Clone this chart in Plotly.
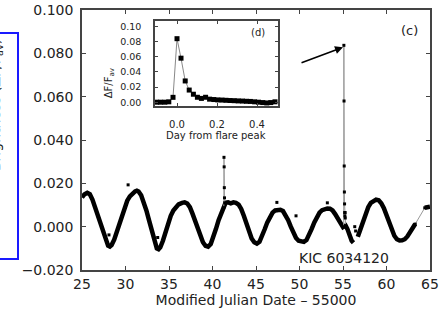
import plotly.graph_objects as go

# ---------------- data ----------------
# quiescent light curve (Modified Julian Date - 55000, brightness)
lc_t = [25.0, 25.3, 25.6, 25.9, 26.2, 26.5, 26.8, 27.1, 27.4, 27.7, 28.0, 28.2, 28.4, 28.7,
        29.0, 29.3, 29.6, 29.9, 30.2, 30.5, 30.8, 31.1, 31.3, 31.5, 31.8, 32.1, 32.4, 32.7,
        33.0, 33.3, 33.6, 33.8, 34.0, 34.3, 34.6, 34.9, 35.2, 35.5, 35.8, 36.1, 36.5, 36.8,
        37.1, 37.4, 37.7, 38.0, 38.3, 38.6, 38.9, 39.2, 39.5, 39.8, 40.1, 40.4, 40.7, 41.0,
        41.3, 41.5, 41.8, 42.1, 42.4, 42.7, 43.0, 43.3, 43.6, 43.9, 44.2, 44.5, 44.8, 45.1,
        45.4, 45.7, 46.0, 46.3, 46.6, 46.9, 47.2, 47.5, 47.8, 48.1, 48.4, 48.7, 49.0, 49.3,
        49.6, 49.9, 50.2, 50.5, 50.8, 51.1, 51.4, 51.7, 52.0, 52.3, 52.6, 52.9, 53.2, 53.5,
        53.8, 54.1, 54.4, 54.7, 55.0, 55.08, 55.3, 55.5, 55.8, 56.0, 56.2, None,
        56.7, 57.0, 57.3, 57.6, 57.9, 58.2, 58.5, 58.8, 59.1, 59.4, 59.7, 60.0, 60.3, 60.6,
        60.9, 61.2, 61.5, 61.8, 62.1, 62.4, 62.7, 63.0, 63.3, None,
        64.4, 64.6, 64.8, 65.0]
lc_v = [0.0135, 0.0150, 0.0156, 0.0150, 0.0125, 0.0090, 0.0050, 0.0010, -0.0030, -0.0065, -0.0088, -0.0092, -0.0085, -0.0060,
        -0.0025, 0.0015, 0.0055, 0.0090, 0.0120, 0.0140, 0.0155, 0.0163, 0.0166, 0.0162, 0.0145, 0.0115, 0.0075, 0.0030,
        -0.0015, -0.0065, -0.0100, -0.0104, -0.0095, -0.0065, -0.0025, 0.0015, 0.0050, 0.0075, 0.0092, 0.0103, 0.0110, 0.0112,
        0.0107, 0.0090, 0.0060, 0.0025, -0.0010, -0.0045, -0.0072, -0.0088, -0.0092, -0.0080, -0.0050, -0.0010, 0.0030, 0.0065,
        0.0088, 0.0110, 0.0112, 0.0108, 0.0112, 0.0110, 0.0102, 0.0082, 0.0050, 0.0012, -0.0025, -0.0055, -0.0072, -0.0078,
        -0.0070, -0.0045, -0.0012, 0.0020, 0.0048, 0.0065, 0.0075, 0.0078, 0.0078, 0.0072, 0.0055, 0.0030, 0.0000, -0.0030,
        -0.0052, -0.0065, -0.0070, -0.0070, -0.0062, -0.0040, -0.0010, 0.0020, 0.0045, 0.0065, 0.0076, 0.0082, 0.0084, 0.0083,
        0.0075, 0.0058, 0.0035, 0.0012, -0.0002, 0.0000, 0.0005, -0.0010, -0.0045, -0.0065, -0.0074, None,
        -0.0046, -0.0010, 0.0025, 0.0060, 0.0090, 0.0110, 0.0121, 0.0125, 0.0122, 0.0108, 0.0085, 0.0055, 0.0020, -0.0015,
        -0.0042, -0.0058, -0.0064, -0.0063, -0.0058, -0.0045, -0.0025, -0.0005, 0.0012, None,
        0.0087, 0.0088, 0.0090, 0.0092]

# flare events in the main light curve
flare1_t = [41.30, 41.32, 41.34, 41.36, 41.38, 41.40]
flare1_v = [0.0088, 0.0320, 0.0276, 0.0180, 0.0133, 0.0110]
flare2_t = [55.08, 55.10, 55.12, 55.14, 55.16, 55.18, 55.20, 55.22, 55.24, 55.26, 55.30]
flare2_v = [0.0000, 0.0837, 0.0580, 0.0280, 0.0160, 0.0105, 0.0065, 0.0050, 0.0065, 0.0040, 0.0005]

# data gap bridge at the end
gap_t = [63.3, 64.4]
gap_v = [0.0012, 0.0087]

# isolated outlier points
out_t = [28.1, 30.3, 33.7, 47.4, 49.6, 53.2, 56.35, 56.45]
out_v = [-0.0038, 0.0193, -0.0050, 0.0112, 0.0050, 0.0110, 0.0000, -0.0020]

# inset: flare profile (days from flare peak, dF/F_av)
inset_t = [-0.102, -0.082, -0.061, -0.041, -0.020, 0.000, 0.020, 0.041, 0.061, 0.082,
           0.102, 0.122, 0.143, 0.163, 0.184, 0.204, 0.225, 0.245, 0.265, 0.286,
           0.306, 0.327, 0.347, 0.367, 0.388, 0.408, 0.429, 0.449, 0.469, 0.490]
inset_v = [0.0000, 0.0000, 0.0000, 0.0005, 0.0064, 0.0837, 0.0580, 0.0280, 0.0160, 0.0105,
           0.0065, 0.0050, 0.0065, 0.0040, 0.0035, 0.0030, 0.0028, 0.0025, 0.0022, 0.0020,
           0.0017, 0.0015, 0.0012, 0.0010, 0.0005, 0.0000, -0.0005, -0.0010, -0.0005, 0.0005]

main_xticks = [25, 30, 35, 40, 45, 50, 55, 60, 65]
main_yticks = [-0.02, 0.0, 0.02, 0.04, 0.06, 0.08, 0.10]
inset_xticks = [0.0, 0.2, 0.4]
inset_yticks = [0.0, 0.02, 0.04, 0.06, 0.08, 0.10]

FONT = "DejaVu Sans"
AX = "#444444"

fig = go.Figure()
fig.add_trace(go.Scatter(x=lc_t, y=lc_v, mode="lines", line=dict(color="black", width=4.5),
                         connectgaps=False, hoverinfo="skip", showlegend=False))
for tx, ty in [(flare1_t, flare1_v), (flare2_t, flare2_v), (gap_t, gap_v)]:
    fig.add_trace(go.Scatter(x=tx, y=ty, mode="lines+markers", line=dict(color="#999999", width=1),
                             marker=dict(symbol="square", size=3, color="black"), showlegend=False))
fig.add_trace(go.Scatter(x=out_t, y=out_v, mode="markers", marker=dict(symbol="square", size=3, color="black"),
                         showlegend=False))
fig.add_trace(go.Scatter(x=inset_t, y=inset_v, mode="lines+markers", xaxis="x2", yaxis="y2",
                         line=dict(color="#888888", width=1),
                         marker=dict(symbol="square", size=5, color="black"), showlegend=False))

axis_common = dict(showline=True, linecolor=AX, linewidth=1.5, mirror="ticks", ticks="inside",
                   tickcolor=AX, showgrid=False, zeroline=False, automargin=False)

fig.update_layout(
    width=446, height=320,
    margin=dict(l=82, r=16, t=10, b=50),
    paper_bgcolor="white", plot_bgcolor="white",
    font=dict(family=FONT, color="#222222"),
    xaxis=dict(range=[25, 65], tickvals=main_xticks, ticklen=4, tickfont=dict(size=14),
               title=dict(text="Modified Julian Date – 55000", font=dict(size=14), standoff=2),
               **axis_common),
    yaxis=dict(range=[-0.02, 0.1], tickvals=main_yticks, tickformat=".3f", ticklen=4, tickfont=dict(size=14),
               ticklabelstandoff=4, **axis_common),
    xaxis2=dict(domain=[0.2098, 0.5632], anchor="y2", range=[-0.11, 0.505], tickvals=inset_xticks,
                tickformat=".1f", ticklen=3, tickfont=dict(size=10), ticklabelstandoff=8, **axis_common),
    yaxis2=dict(domain=[0.6308, 0.9577], anchor="x2", range=[-0.005, 0.107], tickvals=inset_yticks,
                tickformat=".2f", ticklen=3, tickfont=dict(size=9.5), ticklabelstandoff=10, **axis_common),
)

fig.add_annotation(x=55.17, y=-0.0143, xref="x", yref="y", text="KIC 6034120", showarrow=False,
                   font=dict(size=14, color="#222222"))
fig.add_annotation(x=62.6, y=0.0906, xref="x", yref="y", text="(c)", showarrow=False,
                   font=dict(size=13, color="#222222"))
fig.add_annotation(x=0.405, y=0.092, xref="x2", yref="y2", text="(d)", showarrow=False,
                   font=dict(size=10, color="#222222"))
fig.add_annotation(x=55.0, y=0.0828, ax=50.06, ay=0.0754, xref="x", yref="y", axref="x", ayref="y",
                   text="", showarrow=True, arrowhead=2, arrowsize=1, arrowwidth=1.6, arrowcolor="black")
fig.add_annotation(x=0.054, y=0.7846, xref="paper", yref="paper", text="ΔF/F<sub>av</sub>", textangle=-90,
                   showarrow=False, font=dict(size=10, color="#222222"))
fig.add_annotation(x=0.385, y=0.519, xref="paper", yref="paper", text="Day from flare peak",
                   showarrow=False, font=dict(size=10, color="#222222"))
fig.add_annotation(x=-0.2155, y=0.6346, xref="paper", yref="paper", text="Brightness (ΔF/F<sub>av</sub>)",
                   textangle=-90, xanchor="right", showarrow=False, font=dict(size=14, color="#222222"))
fig.add_shape(type="rect", xref="paper", yref="paper", x0=-0.30, x1=-0.1839, y0=0.0423, y1=0.9115,
              line=dict(color="#1a1aff", width=2), fillcolor="rgba(0,0,0,0)")

fig.write_html("out.html", config={"displayModeBar": False},
               post_script="document.body.style.margin='0';document.body.style.padding='0';")
